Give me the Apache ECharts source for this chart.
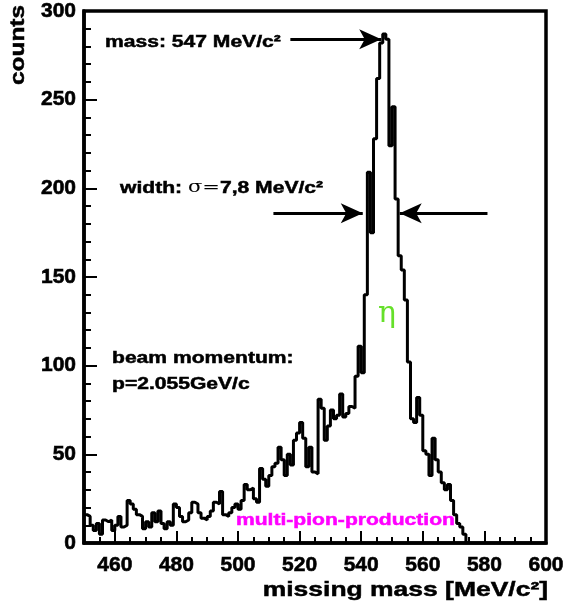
<!DOCTYPE html>
<html>
<head>
    <meta charset="utf-8">
    <title>missing mass</title>
    <style>
        html, body { margin: 0; padding: 0; background: #fff; }
        #main { width: 568px; height: 603px; }
    </style>
</head>
<body>
<div id="main"></div>
<script src="https://cdn.jsdelivr.net/npm/echarts@6/dist/echarts.min.js"></script>
<script type="text/javascript">
    // histogram bins: 1 MeV/c^2 wide, first bin starts at 450
    var binStart = 450;
    var binWidth = 1;
    var counts = [
        16, 15, 10, 7, 11, 5, 13, 12, 13, 7,
        10, 15, 9, 10, 24, 22, 19, 16, 15, 8,
        12, 9, 17, 12, 18, 11, 8, 12, 10, 22,
        20, 15, 12, 13, 17, 23, 22, 17, 14, 13,
        15, 18, 23, 22, 29, 16, 15, 17, 20, 22,
        19, 24, 33, 30, 31, 25, 23, 42, 36, 32,
        38, 43, 45, 54, 47, 38, 50, 44, 58, 62,
        68, 59, 43, 54, 40, 39, 81, 76, 58, 66,
        75, 70, 72, 84, 71, 73, 77, 76, 94, 111,
        96, 140, 209, 175, 228, 262, 282, 287, 284, 224,
        246, 194, 162, 154, 137, 102, 70, 68, 82, 72,
        52, 50, 38, 59, 47, 40, 34, 30, 33, 24,
        16, 11, 9, 5
    ];
    var xTickLabels = [460, 480, 500, 520, 540, 560, 580, 600];
    // annotation arrows: [x from, y, x to (tip), y]
    var arrows = [
        [517, 284, 546.5, 284],
        [511.5, 186, 540.5, 186],
        [581, 186, 552.5, 186]
    ];

    var FONT = '"Liberation Sans", Arial, Helvetica, sans-serif';

    var histData = counts.map(function (c, i) {
        return [binStart + i * binWidth, c];
    });
    histData.push([binStart + counts.length * binWidth, 0]);

    var myChart = echarts.init(document.getElementById('main'));

    // bold label style, a thin outline makes it as heavy as the original
    var labelStyle = {
        fontSize: 21, fontWeight: 'bold', color: '#000', fontFamily: FONT,
        textBorderColor: '#000', textBorderWidth: 0.6
    };

    function txt(x, y, text, extra) {
        var st = {
            text: text,
            fill: '#000',
            font: 'bold 17px ' + FONT,
            stroke: '#000', lineWidth: 0.5,
            textAlign: 'left',
            textVerticalAlign: 'middle'
        };
        for (var k in (extra || {})) st[k] = extra[k];
        return { type: 'text', x: x, y: y, scaleX: 1.24, style: st, z: 100 };
    }

    myChart.setOption({
        animation: false,
        grid: {
            left: 84, right: 22, top: 11, bottom: 60,
            show: true, borderColor: '#000', borderWidth: 3.5
        },
        xAxis: [{
            type: 'value', min: 450, max: 600, interval: 5,
            position: 'bottom',
            axisLine: { show: true, onZero: false, lineStyle: { color: '#000', width: 3.5 } },
            axisTick: { inside: true, length: 6, lineStyle: { color: '#000', width: 2 } },
            axisLabel: { show: false },
            splitLine: { show: false }
        }, {
            type: 'value', min: 450, max: 600,
            position: 'bottom',
            axisLine: { show: false },
            axisTick: { inside: true, length: 12, customValues: xTickLabels, lineStyle: { color: '#000', width: 2 } },
            axisLabel: Object.assign({ customValues: xTickLabels, margin: 12 }, labelStyle),
            splitLine: { show: false }
        }],
        yAxis: {
            type: 'value', min: 0, max: 300, interval: 50,
            axisLine: { show: true, onZero: false, lineStyle: { color: '#000', width: 3.5 } },
            axisTick: { inside: true, length: 13, lineStyle: { color: '#000', width: 2 } },
            minorTick: { show: true, splitNumber: 5, length: 7, lineStyle: { color: '#000', width: 2 } },
            axisLabel: Object.assign({ margin: 8 }, labelStyle),
            splitLine: { show: false }
        },
        series: [{
            type: 'line',
            step: 'end',
            symbol: 'none',
            data: histData,
            lineStyle: { color: '#000', width: 3 },
            markLine: {
                silent: true,
                symbol: ['none', 'arrow'],
                symbolSize: [15, 22],
                label: { show: false },
                lineStyle: { color: '#000', width: 3, type: 'solid' },
                itemStyle: { color: '#000' },
                data: arrows.map(function (a) {
                    return [{ coord: [a[0], a[1]] }, { coord: [a[2], a[3]] }];
                })
            }
        }],
        graphic: [
            txt(105, 42, 'mass: 547 MeV/c²'),
            {
                type: 'text', x: 120, y: 188, scaleX: 1.24, z: 100,
                style: {
                    text: 'width: {s|σ=}7,8 MeV/c²',
                    font: 'bold 17px ' + FONT,
                    fill: '#000', stroke: '#000', lineWidth: 0.5,
                    textVerticalAlign: 'middle',
                    rich: { s: { fontFamily: '"DejaVu Serif", serif', fontWeight: 'normal', fontSize: 17, fill: '#000', lineWidth: 0 } }
                }
            },
            txt(112, 358, 'beam momentum:'),
            txt(112, 384, 'p=2.055GeV/c'),
            {
                type: 'text', x: 387, y: 314, z: 100,
                style: {
                    text: 'η', fill: '#66e02a',
                    font: '30px "DejaVu Serif", serif',
                    textAlign: 'center', textVerticalAlign: 'middle'
                }
            },
            txt(236, 520, 'multi-pion-production', { fill: '#ff00ff', stroke: '#ff00ff' }),
            {
                type: 'text', x: 18, y: 45, rotation: Math.PI / 2, scaleX: 1.22, z: 100,
                style: {
                    text: 'counts', fill: '#000', stroke: '#000', lineWidth: 0.5,
                    font: 'bold 20px ' + FONT,
                    textAlign: 'center', textVerticalAlign: 'middle'
                }
            },
            {
                type: 'text', x: 548, y: 590, scaleX: 1.26, z: 100,
                style: {
                    text: 'missing mass [MeV/c²]', fill: '#000', stroke: '#000', lineWidth: 0.5,
                    font: 'bold 21px ' + FONT,
                    textAlign: 'right', textVerticalAlign: 'middle'
                }
            }
        ]
    });
</script>
</body>
</html>
